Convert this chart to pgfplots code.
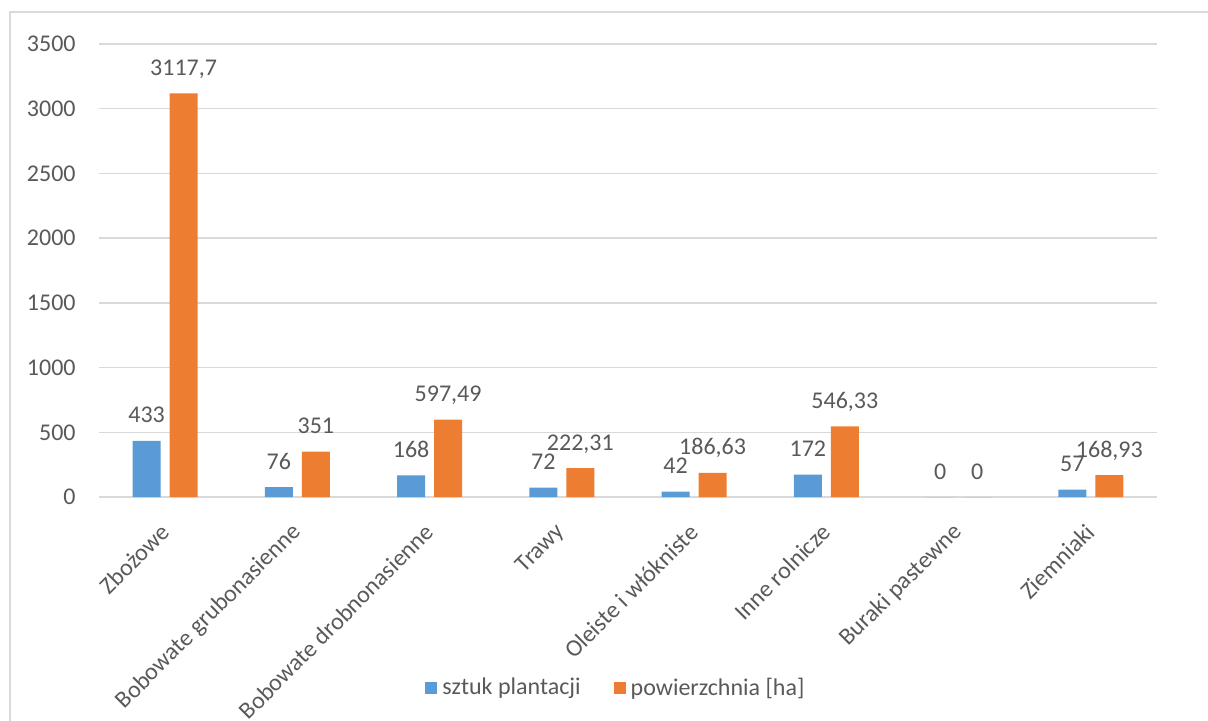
\documentclass[border=0pt]{standalone}
\usepackage{pgfplots}
\usepackage{pgfplotstable}
\pgfplotsset{compat=1.18}
\usepackage{fontspec}
\setmainfont{Carlito}
\definecolor{cblue}{HTML}{5B9BD5}
\definecolor{corange}{HTML}{ED7D31}
\definecolor{cgrid}{HTML}{D9D9D9}
\definecolor{ctext}{HTML}{595959}

\pgfplotstableread{
x y label
0 433 433
1 76 76
2 168 168
3 72 72
4 42 42
5 172 172
6 0 0
7 57 57
}\sztuk

\pgfplotstableread{
x y label
0 3117.7 3117,7
1 351 351
2 597.49 597,49
3 222.31 222,31
4 186.63 186,63
5 546.33 546,33
6 0 0
7 168.93 168,93
}\powierzchnia

\begin{document}
\begin{tikzpicture}
\useasboundingbox (0,0) rectangle (604pt,360pt);
\clip (0,0) rectangle (604pt,360pt);
\draw[cgrid, line width=1pt] (5pt,-10pt) -- (5pt,354pt) -- (640pt,354pt);
\begin{axis}[
  at={(49.5pt,111.5pt)}, anchor=south west,
  scale only axis, width=529pt, height=226.5pt,
  xmin=-0.5, xmax=7.5, ymin=0, ymax=3500,
  ytick={0,500,...,3500},
  xtick={0,...,7},
  xticklabels={Zbożowe, Bobowate grubonasienne, Bobowate drobnonasienne, Trawy, Oleiste i włókniste, Inne rolnicze, Buraki pastewne, Ziemniaki},
  ymajorgrids, grid style={cgrid, line width=0.75pt},
  axis line style={draw=none},
  major tick length=0pt,
  /pgf/number format/1000 sep={},
  /pgf/number format/assume math mode=true,
  tick label style={font=\fontsize{12}{14}\selectfont, text=ctext},
  y tick label style={inner sep=0pt, anchor=east, xshift=-11.5pt},
  x tick label style={yshift=-15.5pt, rotate=45, anchor=east, inner sep=0pt},
  ybar, bar width=14pt,
  nodes near coords,
  point meta=explicit symbolic,
  every node near coord/.append style={anchor=base, yshift=9pt, inner sep=0pt, font=\fontsize{12}{14}\selectfont, text=ctext},
  legend columns=2,
  legend style={at={(0.49,-0.4216)}, anchor=center, draw=none, fill=none,
    font=\fontsize{12}{14}\selectfont, text=ctext,
    nodes={inner xsep=2.5pt},
    /tikz/every odd column/.style={column sep=0pt},
    /tikz/every even column/.style={column sep=14pt}},
]
\addplot[fill=cblue, draw=none, bar shift=-9.25pt,
  legend image code/.code={\fill[cblue] (0pt,-3pt) rectangle (6pt,3pt);}]
  table[x=x, y=y, meta=label] {\sztuk};
\addlegendentry{sztuk plantacji}
\addplot[fill=corange, draw=none, bar shift=9.25pt,
  legend image code/.code={\fill[corange] (0pt,-3pt) rectangle (6pt,3pt);}]
  table[x=x, y=y, meta=label] {\powierzchnia};
\addlegendentry{powierzchnia [ha]}
\end{axis}
\end{tikzpicture}
\end{document}
